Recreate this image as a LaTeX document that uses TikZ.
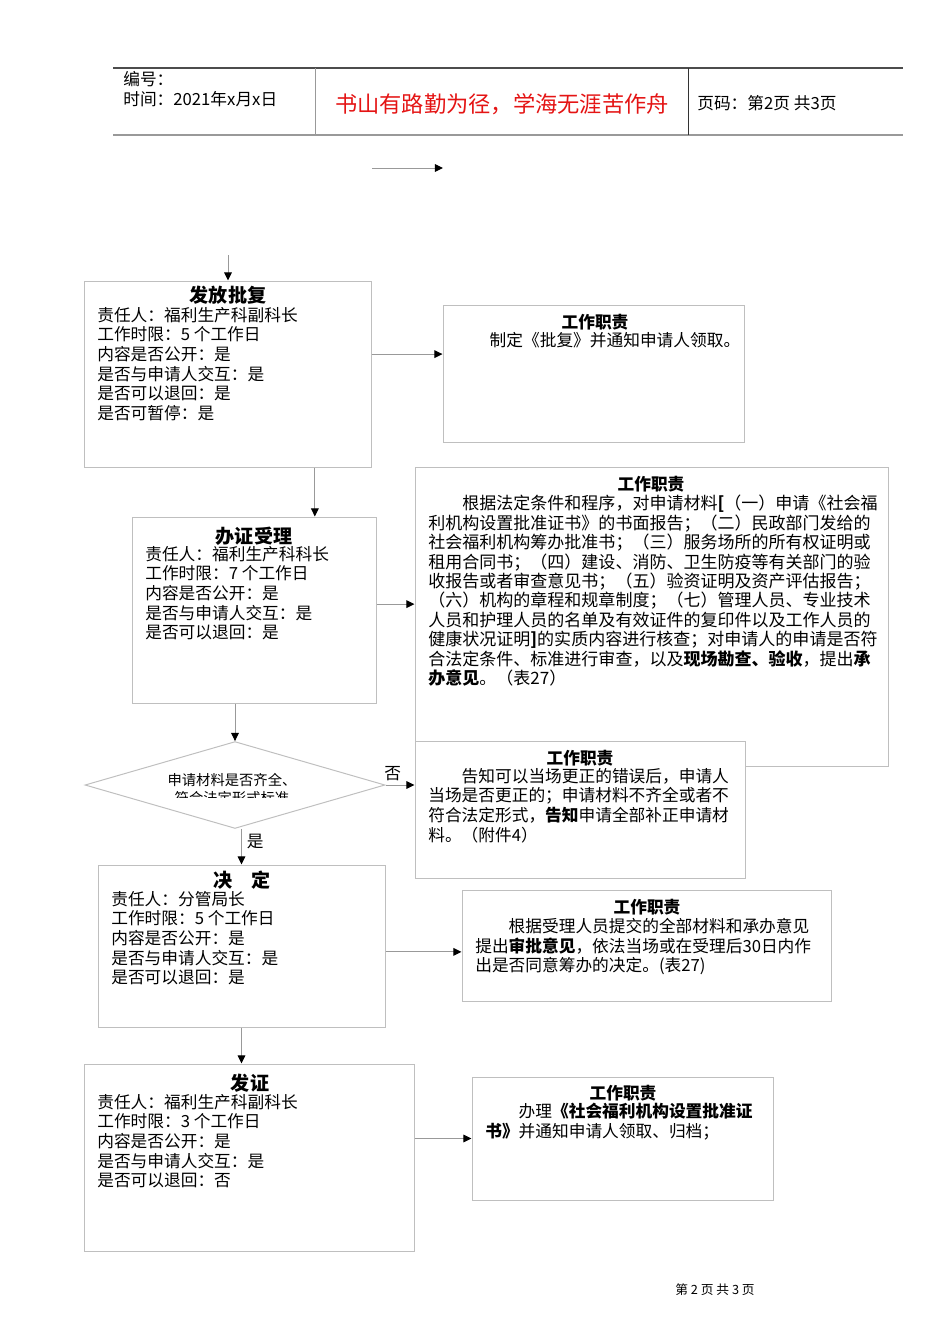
\documentclass[tikz,border=0pt]{standalone}
\usepackage{fontspec}
\setmainfont{Noto Sans CJK SC}
\usetikzlibrary{arrows.meta, positioning, fit, shapes.geometric}
\definecolor{hdred}{RGB}{228,20,20}

\begin{document}
\begin{tikzpicture}[
			x=0.221mm, y=-0.221mm,
			box/.style={rectangle, draw=black!25, line width=0.22mm, fill=white, inner sep=0pt},
			ttl/.style={inner sep=0pt, font=\fontsize{12}{14}\selectfont\bfseries},
			dttl/.style={inner sep=0pt, font=\fontsize{10.5}{12}\selectfont\bfseries},
			txt/.style={anchor=north west, align=left, inner sep=0pt, font=\fontsize{10.5}{12.3}\selectfont},
			hd/.style={anchor=west, inner sep=0pt, font=\fontsize{10.5}{12}\selectfont},
			dia/.style={diamond, draw=black!25, line width=0.22mm, inner sep=0pt, minimum width=66.3mm, minimum height=19.2mm},
			arrow/.style={draw=black!40, line width=0.22mm, -{Triangle[length=1.8mm, width=1.7mm, color=black]}}
			]
			\useasboundingbox (0,0) rectangle (950,1344);
			
			% page header
			\draw[black!70, line width=0.35mm] (113,68) -- (903,68);
			\draw[black!40, line width=0.45mm] (113,135) -- (903,135);
			\draw[black!40, line width=0.22mm] (315,68) -- (315,135);
			\draw[black!80, line width=0.22mm] (688,68) -- (688,135);
			\node[hd] (hnum) at (123,79) {编号：};
			\node[hd] (htime) at (123,99) {时间：2021年x月x日};
			\node[inner sep=0pt, text=hdred, font=\fontsize{14}{16}\selectfont] (hmotto) at (502,104) {书山有路勤为径，学海无涯苦作舟};
			\node[hd] (hpage) at (697,103) {页码：第2页 共3页};
			
			\coordinate (s0) at (372,168);
			\coordinate (s1) at (443,168);
			\draw[arrow] (s0) -- (s1);
			
			% steps on the left
			\node[box, fit={(84,281) (371,467)}] (fang) {};
			\node[ttl] (fangttl) at (228,295) {发放批复};
			\node[txt] (fangtxt) at (97,307) {责任人：福利生产科副科长\\工作时限：5 个工作日\\内容是否公开：是\\是否与申请人交互：是\\是否可以退回：是\\是否可暂停：是};
			
			\node[box, fit={(132,517) (376,703)}] (ban) {};
			\node[ttl] (banttl) at (254,536) {办证受理};
			\node[txt] (bantxt) at (145,546) {责任人：福利生产科科长\\工作时限：7 个工作日\\内容是否公开：是\\是否与申请人交互：是\\是否可以退回：是};
			
			\node[dia] (chk) at (235,785) {};
			\begin{scope}
				\clip (150,766) rectangle (330,797);
				\node[inner sep=0pt, align=center, font=\fontsize{9}{10.8}\selectfont] (chktxt) at (232,789) {申请材料是否齐全、\\符合法定形式标准};
			\end{scope}
			
			\node[box, fit={(98,865) (385,1027)}] (jue) {};
			\node[ttl] (juettl) at (242,880) {决　定};
			\node[txt] (juetxt) at (111,891) {责任人：分管局长\\工作时限：5 个工作日\\内容是否公开：是\\是否与申请人交互：是\\是否可以退回：是};
			
			\node[box, fit={(84,1064) (414,1251)}] (fz) {};
			\node[ttl] (fzttl) at (250,1083) {发证};
			\node[txt] (fztxt) at (97,1094) {责任人：福利生产科副科长\\工作时限：3 个工作日\\内容是否公开：是\\是否与申请人交互：是\\是否可以退回：否};
			
			% duties on the right
			\node[box, fit={(443,305) (744,442)}] (duty1) {};
			\node[dttl] (duty1ttl) at (595,322) {工作职责};
			\node[txt] (duty1txt) at (456,332) {　　制定《批复》并通知申请人领取。};
			
			\node[box, fit={(415,467) (888,766)}] (duty2) {};
			\node[dttl] (duty2ttl) at (651,484) {工作职责};
			\node[txt, font=\fontsize{10.7}{12.2}\selectfont] (duty2txt) at (428,495) {　　根据法定条件和程序，对申请材料\textbf{[}（一）申请《社会福\\利机构设置批准证书》的书面报告；（二）民政部门发给的\\社会福利机构筹办批准书；（三）服务场所的所有权证明或\\租用合同书；（四）建设、消防、卫生防疫等有关部门的验\\收报告或者审查意见书；（五）验资证明及资产评估报告；\\（六）机构的章程和规章制度；（七）管理人员、专业技术\\人员和护理人员的名单及有效证件的复印件以及工作人员的\\健康状况证明\textbf{]}的实质内容进行核查；对申请人的申请是否符\\合法定条件、标准进行审查，以及\textbf{现场勘查、验收}，提出\textbf{承}\\\textbf{办意见}。（表27）};
			
			\node[box, fit={(415,741) (745,878)}] (gz) {};
			\node[dttl] (gzttl) at (580,758) {工作职责};
			\node[txt] (gztxt) at (428,768) {　　告知可以当场更正的错误后，申请人\\当场是否更正的；申请材料不齐全或者不\\符合法定形式，\textbf{告知}申请全部补正申请材\\料。（附件4）};
			
			\node[box, fit={(462,890) (831,1001)}] (duty3) {};
			\node[dttl] (duty3ttl) at (647,907) {工作职责};
			\node[txt] (duty3txt) at (475,918) {　　根据受理人员提交的全部材料和承办意见\\提出\textbf{审批意见}，依法当场或在受理后30日内作\\出是否同意筹办的决定。(表27)};
			
			\node[box, fit={(472,1077) (773,1200)}] (duty4) {};
			\node[dttl] (duty4ttl) at (623,1093) {工作职责};
			\node[txt] (duty4txt) at (485,1103) {　　办理\textbf{《社会福利机构设置批准证}\\\textbf{书》}并通知申请人领取、归档；};
			
			% connectors
			\coordinate (s2) at (228,255);
			\draw[arrow] (s2) -- (s2 |- fang.north);
			\draw[arrow] ([yshift=4.4mm]fang.east) -- ([yshift=4.4mm]fang.east -| duty1.west);
			\draw[arrow] ([xshift=19.3mm]fang.south) -- ([xshift=19.3mm]fang.south |- ban.north);
			\draw[arrow] ([yshift=1.3mm]ban.east) -- ([yshift=1.3mm]ban.east -| duty2.west);
			\draw[arrow] (chk.north |- ban.south) -- (chk.north);
			\draw[arrow] (chk.east) -- node[above, pos=0.25, inner sep=2pt, font=\fontsize{10.5}{12}\selectfont] (no) {否} (chk.east -| gz.west);
			\draw[arrow] (jue.north |- chk.south) -- node[right, pos=0.35, inner sep=3pt, font=\fontsize{10.5}{12}\selectfont] (yes) {是} (jue.north);
			\draw[arrow] ([yshift=-1.3mm]jue.east) -- ([yshift=-1.3mm]jue.east -| duty3.west);
			\draw[arrow] (jue.south) -- (jue.south |- fz.north);
			\draw[arrow] (fz.east |- duty4.west) -- (duty4.west);
			
			% page footer
			\node[inner sep=0pt, font=\fontsize{8}{10}\selectfont] (foot) at (715,1290) {第 2 页 共 3 页};
		\end{tikzpicture}
\end{document}
